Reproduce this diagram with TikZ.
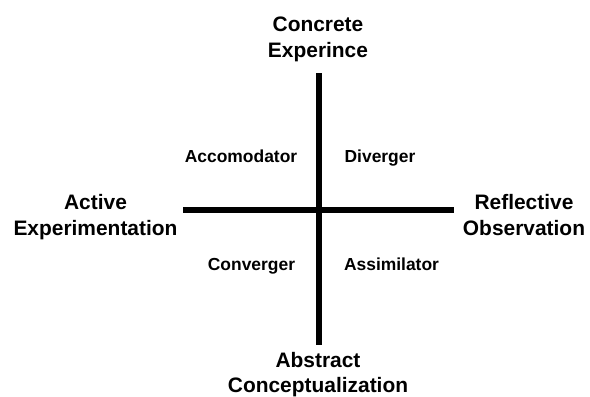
\documentclass[tikz,border=0pt]{standalone}
\usepackage{fontspec}
\setmainfont{Liberation Sans}
\begin{document}
\begin{tikzpicture}[x=1bp,y=-1bp,
  axislabel/.style={font=\fontsize{21}{25.5}\selectfont\bfseries, align=center, anchor=base, inner sep=0pt},
  stylelabel/.style={font=\fontsize{17.5}{20}\selectfont\bfseries, anchor=base, inner sep=0pt},
  axisline/.style={line width=6bp, black}]
  \useasboundingbox (0,0) rectangle (590,396);
  % ends of the two axes
  \coordinate (top) at (318.5,73);
  \coordinate (bottom) at (318.5,345);
  \coordinate (left) at (183,210);
  \coordinate (right) at (454,210);
  \draw[axisline] (top) -- (bottom);
  \draw[axisline] (left) -- (right);
  % the four poles (anchored at the baseline of their second line)
  \node[axislabel] (ce) at (318,57) {Concrete\\Experince};
  \node[axislabel] (ac) at (318,392.5) {Abstract\\Conceptualization};
  \node[axislabel] (ae) at (95.5,235) {Active\\Experimentation};
  \node[axislabel] (ro) at (524,235) {Reflective\\Observation};
  % the four learning styles
  \node[stylelabel] (acc) at (241,162) {Accomodator};
  \node[stylelabel] (div) at (380,162) {Diverger};
  \node[stylelabel] (con) at (251.5,270.5) {Converger};
  \node[stylelabel] (ass) at (391.5,270.5) {Assimilator};
\end{tikzpicture}
\end{document}
